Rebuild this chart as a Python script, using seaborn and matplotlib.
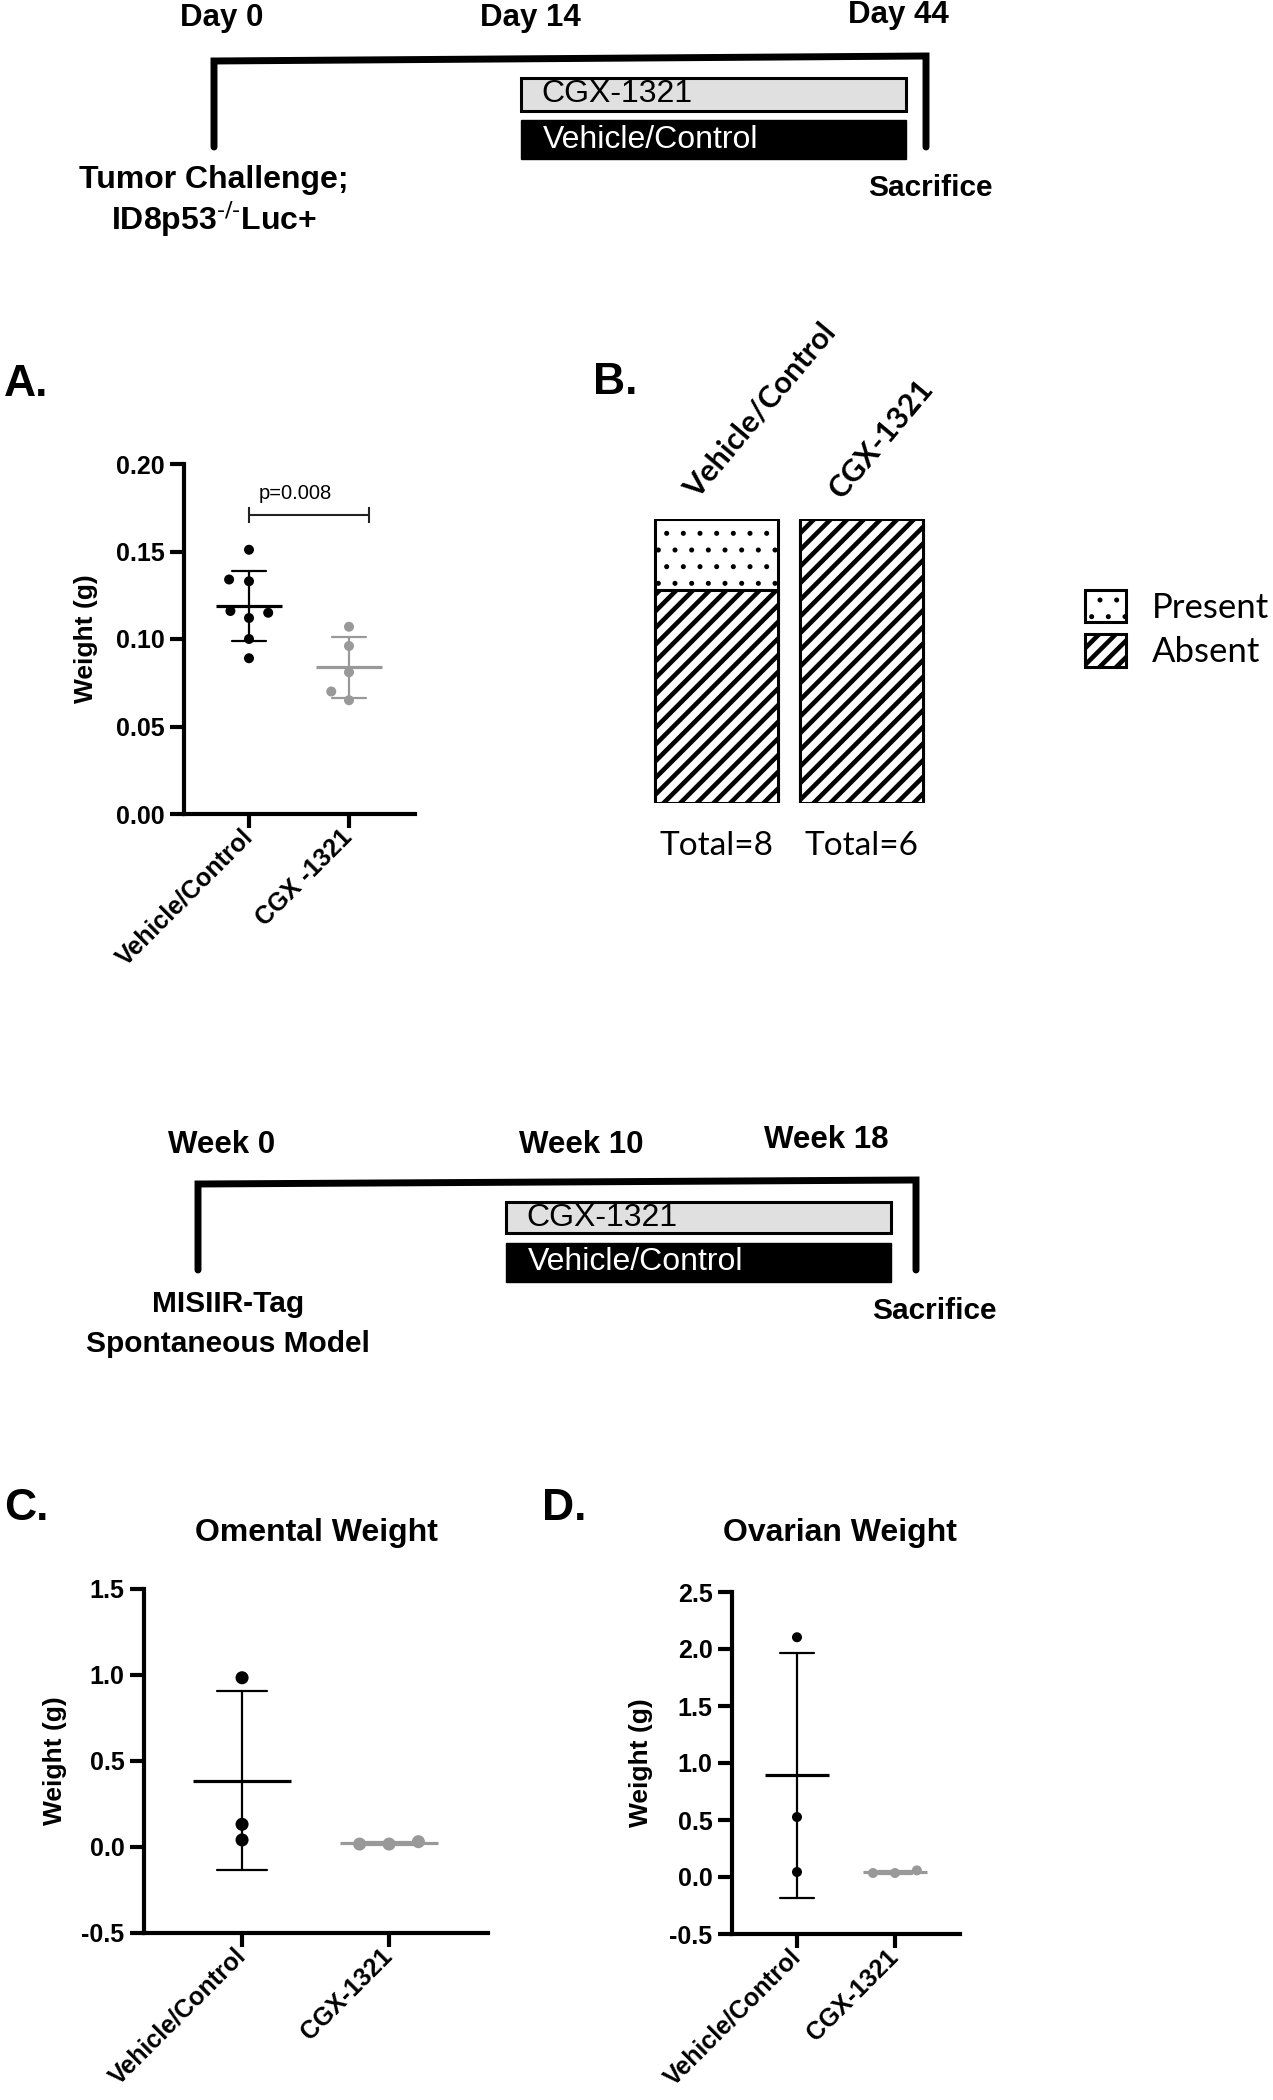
import numpy as np
import pandas as pd
import seaborn as sns
import matplotlib.pyplot as plt
from matplotlib.patches import Patch, Rectangle
from matplotlib.ticker import FormatStrFormatter

W, H = 1273, 2100

groups = ["Vehicle/Control", "CGX-1321"]
group_colors = {"Vehicle/Control": "#000000", "CGX-1321": "#999999"}

# A. tumour weight (g)
tumor_vehicle = [0.151, 0.133, 0.134, 0.116, 0.115, 0.112, 0.100, 0.089]
tumor_cgx = [0.107, 0.096, 0.081, 0.070, 0.065]
tumor_ticklabels = ["Vehicle/Control", "CGX -1321"]
p_label = "p=0.008"

# B. tumour presence counts
present_counts = [2, 0]
absent_counts = [6, 6]
legend_labels = ["Present", "Absent"]

# C. / D. spontaneous model weights (g)
omental_vehicle = [0.984, 0.132, 0.041]
omental_cgx = [0.017, 0.031, 0.017]
ovarian_vehicle = [2.103, 0.526, 0.044]
ovarian_cgx = [0.035, 0.058, 0.035]

# timelines
top_marks = ["Day 0", "Day 14", "Day 44"]
top_start = ["Tumor Challenge;", r"ID8p53$^{\text{-/-}}$Luc+"]
bottom_marks = ["Week 0", "Week 10", "Week 18"]
bottom_start = ["MISIIR-Tag", "Spontaneous Model"]

sns.set_theme(style="ticks", rc={"axes.edgecolor": "black", "xtick.color": "black",
                                 "ytick.color": "black", "text.color": "black",
                                 "axes.labelcolor": "black"})
plt.rcParams["font.family"] = ["Liberation Sans", "DejaVu Sans"]
plt.rcParams["axes.unicode_minus"] = False
plt.rcParams["hatch.linewidth"] = 3.3
plt.rcParams["hatch.color"] = "black"

fig = plt.figure(figsize=(W / 100, H / 100), dpi=100)

canvas = fig.add_axes([0, 0, 1, 1])
canvas.set_xlim(0, W)
canvas.set_ylim(H, 0)
canvas.axis("off")


def px_axes(left, top, right, bottom):
    return fig.add_axes([left / W, 1 - bottom / H, (right - left) / W, (bottom - top) / H])


def thin_dots(patch):
    # keep the dotted hatch light while the stripes stay heavy
    if patch.get_hatch() == "." and hasattr(patch, "set_hatch_linewidth"):
        patch.set_hatch_linewidth(1.2)


def draw_timeline(marks, mark_x, mark_y, bx, by, box_x, cgx_y, veh_y, start_lines, start_xy, end_xy):
    for m, x, y in zip(marks, mark_x, mark_y):
        canvas.text(x, y, m, ha="center", va="center", fontsize=22.5, fontweight="bold")
    canvas.plot([bx[0], bx[0], bx[1], bx[1]], [by[2], by[0], by[1], by[2]],
                color="black", lw=5, solid_joinstyle="miter")
    canvas.add_patch(Rectangle((box_x[0], cgx_y[0]), box_x[1] - box_x[0], cgx_y[1] - cgx_y[0],
                               facecolor="#e0e0e0", edgecolor="black", lw=2.2))
    canvas.add_patch(Rectangle((box_x[0], veh_y[0]), box_x[1] - box_x[0], veh_y[1] - veh_y[0],
                               facecolor="black", edgecolor="black", lw=1))
    canvas.text(box_x[0] + 20, (cgx_y[0] + cgx_y[1]) / 2, "CGX-1321", ha="left", va="center", fontsize=23)
    canvas.text(box_x[0] + 22, (veh_y[0] + veh_y[1]) / 2, "Vehicle/Control", ha="left", va="center",
                fontsize=23, color="white")
    for i, line in enumerate(start_lines):
        canvas.text(start_xy[0], start_xy[1] + i * start_xy[2], line, ha="center", va="center",
                    fontsize=start_xy[3], fontweight="bold")
    canvas.text(end_xy[0], end_xy[1], "Sacrifice", ha="center", va="center", fontsize=21.5, fontweight="bold")


draw_timeline(top_marks, [222, 530, 898], [18, 18, 15], (214, 926), (61, 56, 147),
              (521, 906), (78, 111), (120, 159), top_start, (214, 180, 39, 23), (930, 188))
draw_timeline(bottom_marks, [222, 581, 826], [1145, 1145, 1140], (198, 916), (1184, 1180, 1270),
              (506, 891), (1202, 1233), (1243, 1282), bottom_start, (228, 1304, 40, 21.5), (934, 1311))

for letter, x, y in [("A.", 4, 384), ("B.", 593, 382), ("C.", 4, 1508), ("D.", 542, 1508)]:
    canvas.text(x, y, letter, ha="left", va="center", fontsize=32, fontweight="bold")


def dot_panel(ax, vehicle, cgx, dot_pt, gaps, mean_pt, ylim, yticks, fmt, ticklabels, xlim, ylab_x):
    df = pd.DataFrame({"group": [groups[0]] * len(vehicle) + [groups[1]] * len(cgx),
                       "weight": vehicle + cgx})
    for g, gap in zip(groups, gaps):
        sns.swarmplot(data=df[df["group"] == g], x="group", y="weight", order=groups,
                      color=group_colors[g], size=dot_pt, linewidth=gap, edgecolor="none",
                      ax=ax, zorder=3)
    sns.pointplot(data=df, x="group", y="weight", hue="group", order=groups, hue_order=groups,
                  palette=group_colors, errorbar="sd", capsize=0.34, linestyle="none", marker="_",
                  markersize=mean_pt, markeredgewidth=2.3, err_kws={"linewidth": 1.6},
                  legend=False, ax=ax, zorder=4)
    ax.set_xlim(*xlim)
    ax.set_ylim(*ylim)
    ax.set_yticks(yticks)
    ax.yaxis.set_major_formatter(FormatStrFormatter(fmt))
    ax.set_xticks([0, 1])
    ax.set_xticklabels(ticklabels, rotation=45, ha="right", va="center", rotation_mode="anchor")
    ax.set_xlabel("")
    ax.set_ylabel("Weight (g)", fontsize=19, fontweight="bold")
    ax.yaxis.set_label_coords(ylab_x, 0.5)
    sns.despine(ax=ax)
    for s in ["left", "bottom"]:
        ax.spines[s].set_linewidth(3)
    ax.tick_params(width=3, length=10, labelsize=18, pad=4)
    for lab in ax.get_xticklabels() + ax.get_yticklabels():
        lab.set_fontweight("bold")


# A
ax_a = px_axes(184, 464, 415, 814)
dot_panel(ax_a, tumor_vehicle, tumor_cgx, 7.2, (6.5, 6.5), 47.5, (0, 0.2),
          [0, 0.05, 0.10, 0.15, 0.20], "%.2f", tumor_ticklabels, (-0.65, 1.66), -0.372)
bracket_x = [0, 1.2]
bracket_y = 0.1707
ax_a.plot(bracket_x, [bracket_y, bracket_y], color="#222222", lw=1.5)
ax_a.vlines(bracket_x, bracket_y - 0.0045, bracket_y + 0.0045, color="#222222", lw=1.5)
ax_a.text(0.46, 0.1834, p_label, ha="center", va="center", fontsize=14.5)

# B
ax_b = px_axes(644, 519, 934, 803)
df_b = pd.DataFrame({"group": groups, "present": present_counts, "absent": absent_counts})
df_b["total"] = df_b["present"] + df_b["absent"]
df_b["pct_all"] = 100.0
df_b["pct_absent"] = df_b["absent"] / df_b["total"] * 100
sns.barplot(data=df_b, x="group", y="pct_all", order=groups, color="white", saturation=1,
            edgecolor="black", linewidth=2.2, hatch=".", width=0.85, errorbar=None, ax=ax_b)
sns.barplot(data=df_b, x="group", y="pct_absent", order=groups, color="white", saturation=1,
            edgecolor="black", linewidth=2.2, hatch="//", width=0.85, errorbar=None, ax=ax_b)
for p in ax_b.patches:
    thin_dots(p)
ax_b.set_xlim(-0.5, 1.5)
ax_b.set_ylim(0, 100)
ax_b.axis("off")
for i, row in df_b.iterrows():
    ax_b.text(i - 0.11, 105.5, row["group"], rotation=50, rotation_mode="anchor", ha="left",
              va="bottom", fontsize=22, fontweight="bold", family=["Lato", "DejaVu Sans"])
    ax_b.text(i, -15, f"Total={row['total']}", ha="center", va="center", fontsize=24,
              family=["Lato", "DejaVu Sans"])
handles = [Patch(facecolor="white", edgecolor="black", hatch=".", lw=2.2),
           Patch(facecolor="white", edgecolor="black", hatch="//", lw=2.2)]
for h in handles:
    thin_dots(h)
leg = fig.legend(handles, legend_labels, loc="upper left", bbox_to_anchor=(1085 / W, 1 - 590 / H),
                 frameon=False, prop={"family": ["Lato", "DejaVu Sans"], "size": 25},
                 handlelength=1.18, handleheight=1.05, handletextpad=0.75, labelspacing=0.3,
                 borderpad=0, borderaxespad=0)
for h in leg.get_patches():
    thin_dots(h)

# C
ax_c = px_axes(144, 1589, 488, 1933)
dot_panel(ax_c, omental_vehicle, omental_cgx, 9.4, (0.5, 10.8), 70.5, (-0.5, 1.5),
          [-0.5, 0, 0.5, 1.0, 1.5], "%.1f", groups, (-0.667, 1.673), -0.224)
ax_c.text(0.5, 1.163, "Omental Weight", transform=ax_c.transAxes, ha="center", va="center",
          fontsize=23, fontweight="bold")

# D
ax_d = px_axes(732, 1592, 960, 1934)
dot_panel(ax_d, ovarian_vehicle, ovarian_cgx, 7.2, (0.5, 7.9), 46, (-0.5, 2.5),
          [-0.5, 0, 0.5, 1.0, 1.5, 2.0, 2.5], "%.1f", groups, (-0.663, 1.663), -0.346)
ax_d.text(0.474, 1.173, "Ovarian Weight", transform=ax_d.transAxes, ha="center", va="center",
          fontsize=23, fontweight="bold")

fig.savefig("out.png", dpi=100, facecolor="white")
